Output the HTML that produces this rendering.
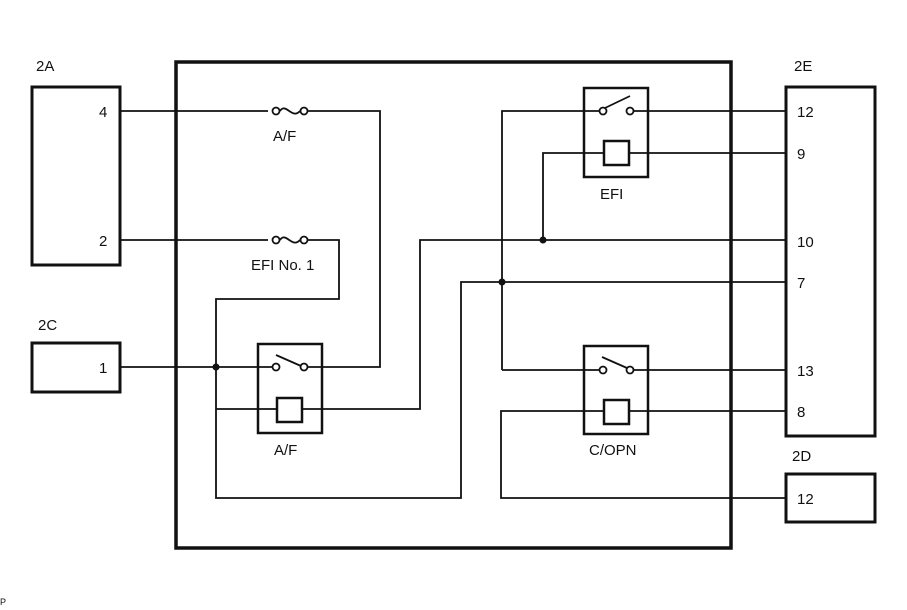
<!DOCTYPE html>
<html><head><meta charset="utf-8"><style>
html,body{margin:0;padding:0;background:#fff;}
svg{display:block;}
text{font-family:"Liberation Sans",Arial,sans-serif;font-size:15px;fill:#111;}
</style></head><body>
<svg width="907" height="610" viewBox="0 0 907 610" xmlns="http://www.w3.org/2000/svg">
<g fill="none" stroke="#111">
<!-- connectors -->
<rect x="32" y="87" width="88" height="178" stroke-width="3"/>
<rect x="32" y="343" width="88" height="49" stroke-width="3"/>
<rect x="786" y="87" width="89" height="349" stroke-width="3"/>
<rect x="786" y="474" width="89" height="48" stroke-width="3"/>
<!-- outer box -->
<rect x="176" y="62" width="555" height="486" stroke-width="3.5"/>
<!-- relays -->
<rect x="258" y="344" width="64" height="89" stroke-width="2.5"/>
<rect x="584" y="88" width="64" height="89" stroke-width="2.5"/>
<rect x="584" y="346" width="64" height="88" stroke-width="2.5"/>
<rect x="277" y="398" width="25" height="24" stroke-width="2.5"/>
<rect x="604" y="141" width="25" height="24" stroke-width="2.5"/>
<rect x="604" y="400" width="25" height="24" stroke-width="2.5"/>
<g stroke-width="1.8">
<!-- 2A pin4 -> fuse A/F -> down to A/F switch -->
<polyline points="120,111 268,111"/>
<polyline points="308,111 380,111 380,367 308,367"/>
<!-- 2A pin2 -> fuse EFI -> down -> 216 -> 2C junction -->
<polyline points="120,240 268,240"/>
<polyline points="308,240 339,240 339,299 216,299 216,367"/>
<!-- 2C pin1 -> A/F switch -->
<polyline points="120,367 272,367"/>
<!-- A/F coil -->
<polyline points="216,367 216,498 461,498 461,282 786,282"/>
<polyline points="216,409 277,409"/>
<polyline points="302,409 420,409 420,240 786,240"/>
<!-- EFI relay -->
<polyline points="502,370 599,370"/>
<polyline points="502,370 502,111 599,111"/>
<polyline points="634,111 786,111"/>
<polyline points="543,240 543,153 604,153"/>
<polyline points="629,153 786,153"/>
<!-- C/OPN -->
<polyline points="634,370 786,370"/>
<polyline points="604,411 501,411 501,498 786,498"/>
<polyline points="629,411 786,411"/>
<!-- fuses -->
<path d="M280,111 C286,102 292,120 300,111"/>
<path d="M280,240 C286,231 292,249 300,240"/>
<!-- switches -->
<line x1="276" y1="355" x2="301" y2="366"/>
<line x1="605" y1="108" x2="630" y2="96"/>
<line x1="602" y1="357" x2="627" y2="368"/>
</g>
<g fill="#fff" stroke-width="1.8">
<circle cx="276" cy="111" r="3.5"/><circle cx="304" cy="111" r="3.5"/>
<circle cx="276" cy="240" r="3.5"/><circle cx="304" cy="240" r="3.5"/>
<circle cx="276" cy="367" r="3.5"/><circle cx="304" cy="367" r="3.5"/>
<circle cx="603" cy="111" r="3.5"/><circle cx="630" cy="111" r="3.5"/>
<circle cx="603" cy="370" r="3.5"/><circle cx="630" cy="370" r="3.5"/>
</g>
</g>
<g fill="#111">
<circle cx="216" cy="367" r="3.5"/>
<circle cx="543" cy="240" r="3.5"/>
<circle cx="502" cy="282" r="3.5"/>
</g>
<text x="36" y="71">2A</text>
<text x="38" y="330">2C</text>
<text x="794" y="71">2E</text>
<text x="792" y="461">2D</text>
<text x="99" y="117">4</text>
<text x="99" y="246">2</text>
<text x="99" y="373">1</text>
<text x="797" y="117">12</text>
<text x="797" y="159">9</text>
<text x="797" y="247">10</text>
<text x="797" y="288">7</text>
<text x="797" y="376">13</text>
<text x="797" y="417">8</text>
<text x="797" y="504">12</text>
<text x="273" y="141">A/F</text>
<text x="251" y="270">EFI No. 1</text>
<text x="274" y="455">A/F</text>
<text x="600" y="199">EFI</text>
<text x="589" y="455">C/OPN</text>
<text x="0" y="605" style="font-size:9px">P</text>
</svg>
</body></html>
